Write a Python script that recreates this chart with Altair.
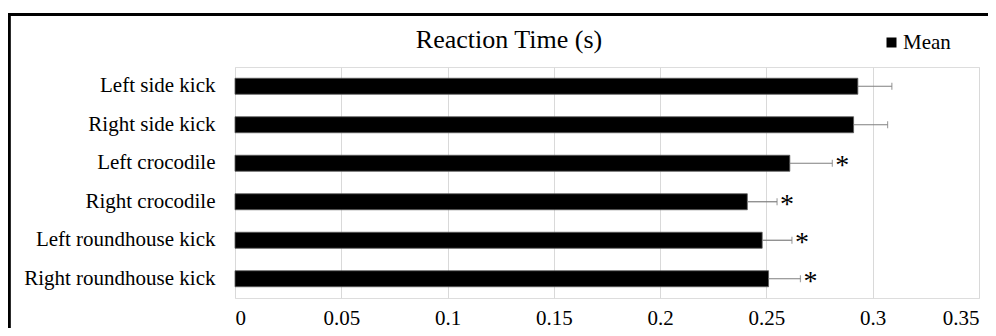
import altair as alt
import pandas as pd

categories = ["Left side kick", "Right side kick", "Left crocodile",
              "Right crocodile", "Left roundhouse kick", "Right roundhouse kick"]
means = [0.293, 0.291, 0.261, 0.241, 0.248, 0.251]
errors = [0.016, 0.016, 0.020, 0.014, 0.014, 0.015]
significant = [False, False, True, True, True, True]
x_ticks = [0, 0.05, 0.1, 0.15, 0.2, 0.25, 0.3, 0.35]
chart_title = "Reaction Time (s)"

df = pd.DataFrame({
    "movement": categories,
    "mean": means,
    "upper": [m + e for m, e in zip(means, errors)],
    "sig": significant,
    "series": ["Mean"] * len(categories),
})

FONT = "Liberation Serif"

y_enc = alt.Y("movement:N", sort=categories,
              scale=alt.Scale(paddingInner=0.584, paddingOuter=0.292),
              axis=alt.Axis(title=None, domain=False, ticks=False, grid=False,
                            labelFont=FONT, labelFontSize=21, labelColor="black",
                            labelPadding=20, labelLimit=400))
x_scale = alt.Scale(domain=[0, 0.35], nice=False)

base = alt.Chart(df)

bars = base.mark_bar(stroke="#5a5a5a", strokeWidth=0.8).encode(
    x=alt.X("mean:Q", scale=x_scale,
            axis=alt.Axis(title=None, values=x_ticks, format="~g", domain=False,
                          ticks=False, grid=True, gridColor="#d9d9d9", gridWidth=1,
                          labelFont=FONT, labelFontSize=21, labelColor="black",
                          labelPadding=9)),
    y=y_enc,
    color=alt.Color("series:N", scale=alt.Scale(range=["black"]),
                    legend=alt.Legend(title=None, orient="none", legendX=646, legendY=-35,
                                      symbolType="square", symbolSize=100,
                                      symbolStrokeWidth=0, padding=0,
                                      labelFont=FONT, labelFontSize=21,
                                      labelColor="black", labelOffset=1)),
)

err = base.mark_rule(color="#7f7f7f", strokeWidth=1.2).encode(
    x="mean:Q", x2="upper:Q", y=alt.Y("movement:N", sort=categories)
)

caps = base.mark_tick(color="#7f7f7f", thickness=1.2, size=7).encode(
    x="upper:Q", y=alt.Y("movement:N", sort=categories)
)

stars = base.transform_filter(alt.datum.sig).mark_text(
    text="*", font=FONT, fontSize=28, align="center", baseline="middle", dx=10, dy=3,
    color="black"
).encode(x="upper:Q", y=alt.Y("movement:N", sort=categories))

title = alt.Chart(pd.DataFrame({"t": [chart_title]})).mark_text(
    font=FONT, fontSize=26, color="black", align="center", baseline="alphabetic"
).encode(text="t:N", x=alt.value(274), y=alt.value(-19))

border_top = base.mark_rule(color="black", strokeWidth=2.5).encode(
    x=alt.value(-226), x2=alt.value(770), y=alt.value(-52.5)
)
border_left = base.mark_rule(color="black", strokeWidth=2.5).encode(
    x=alt.value(-226), y=alt.value(-53.5), y2=alt.value(310)
)

chart = alt.layer(bars, err, caps, stars, title, border_top, border_left).properties(
    width=744, height=231,
    autosize=alt.AutoSizeParams(type="none"),
    padding={"left": 227, "top": 59, "right": 9, "bottom": 30},
).configure_view(stroke=None).configure(background="white")

chart.save("out.html", embed_options={"renderer": "svg", "actions": False})
